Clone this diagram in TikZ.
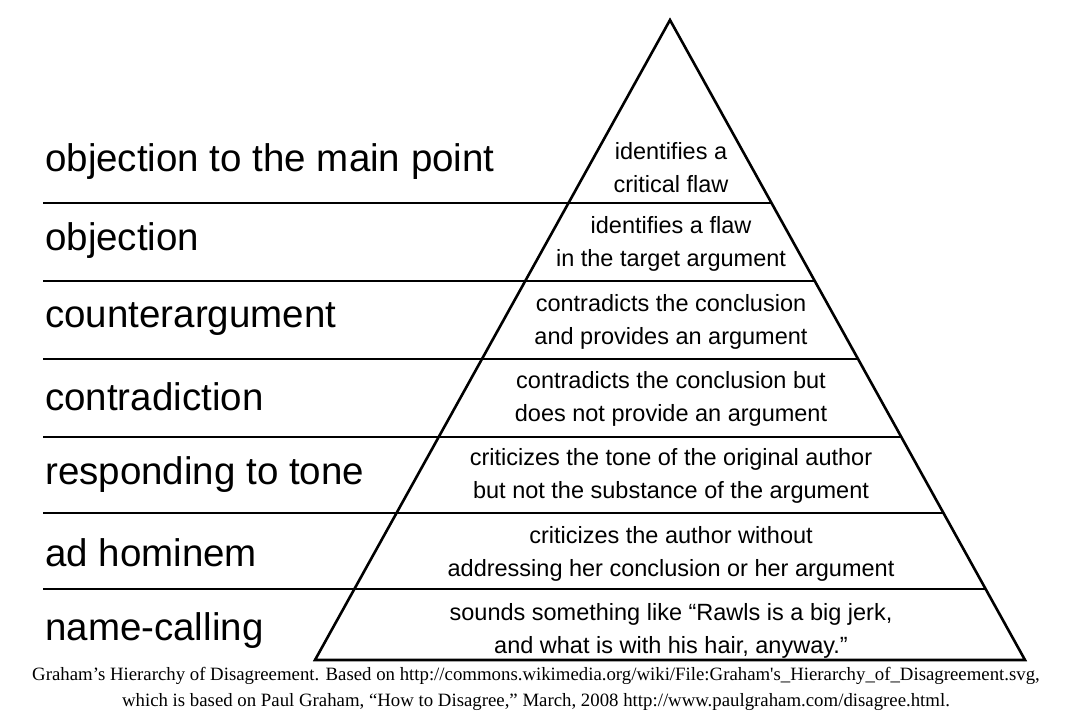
\documentclass[tikz,border=0pt]{standalone}
\usepackage{fontspec}
\setmainfont{Liberation Sans}
\newfontfamily\capfont{Liberation Serif}
\begin{document}
\begin{tikzpicture}[x=1pt,y=-1pt,
  lbl/.style={anchor=west,font=\fontsize{38.5}{42}\selectfont,inner sep=0pt},
  desc/.style={align=center,font=\fontsize{23.5}{33}\selectfont,inner sep=0pt},
  rule/.style={line width=2.6pt}]
\fill[white] (0,0) rectangle (1076,722);
\useasboundingbox (0,0) rectangle (1076,722);
\coordinate (apex) at (670,20);
\coordinate (bl) at (315,660);
\coordinate (br) at (1025,660);
\draw[rule,line join=miter] (apex) -- (bl) -- (br) -- cycle;
\foreach \yy in {203,281,359,437,513,589}{
  \draw[rule] (43,\yy) -- ({670+(\yy-20)/640*355},\yy);
}
\node[lbl] (l1) at (45,162) {objection to the main point};
\node[lbl] (l2) at (45,241) {objection};
\node[lbl] (l3) at (45,319) {counterargument};
\node[lbl] (l4) at (45,397) {contradiction};
\node[lbl] (l5) at (45,475) {responding to tone};
\node[lbl] (l6) at (45,553) {ad hominem};
\node[lbl] (l7) at (45,631) {name-calling};
\node[desc] (d1) at (671,168) {identifies a\\critical flaw};
\node[desc] (d2) at (671,244) {identifies a flaw\\in the target argument};
\node[desc] (d3) at (671,322) {contradicts the conclusion\\and provides an argument};
\node[desc] (d4) at (671,399) {contradicts the conclusion but\\does not provide an argument};
\node[desc] (d5) at (671,476) {criticizes the tone of the original author\\but not the substance of the argument};
\node[desc] (d6) at (671,554) {criticizes the author without\\addressing her conclusion or her argument};
\node[desc] (d7) at (671,631) {sounds something like “Rawls is a big jerk,\\and what is with his hair, anyway.”};
\node[align=center,font=\capfont\fontsize{18.8}{26}\selectfont,inner sep=0pt] (cap) at (536,689)
 {Graham’s Hierarchy of Disagreement. Based on http://commons.wikimedia.org/wiki/File:Graham's\_Hierarchy\_of\_Disagreement.svg,\\which is based on Paul Graham, “How to Disagree,” March, 2008 http://www.paulgraham.com/disagree.html.};
\end{tikzpicture}
\end{document}
